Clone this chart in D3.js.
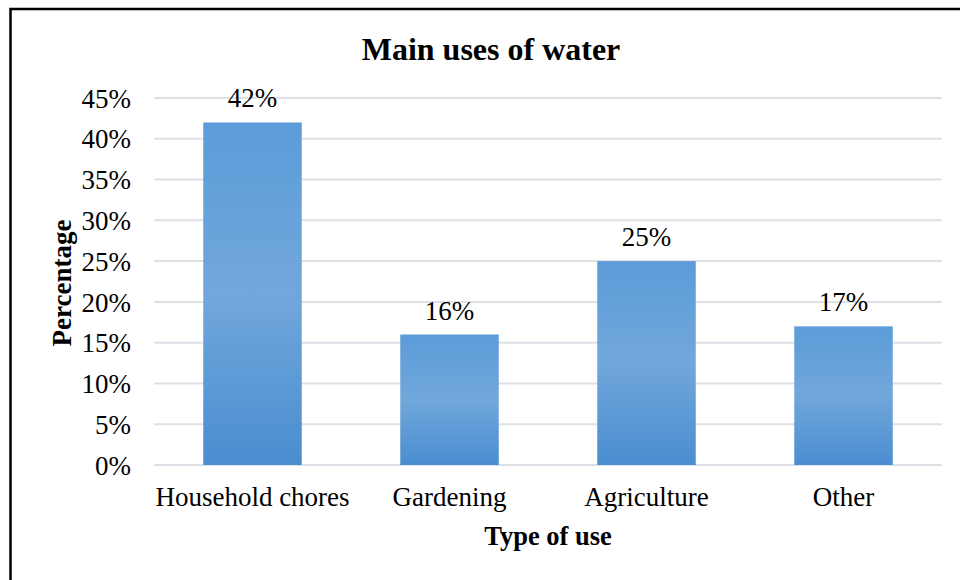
<!DOCTYPE html>
<html>
<head>
<meta charset="utf-8">
<script src="https://cdn.jsdelivr.net/npm/d3@7"></script>
<style>
  body { margin: 0; background: #fff; }
  text { font-family: "Liberation Serif", "Times New Roman", serif; fill: #000; }
</style>
</head>
<body>
<div id="chart-area"></div>
<script>
// data
var categories = ['Household chores', 'Gardening', 'Agriculture', 'Other'];
var values = [42, 16, 25, 17];
var yTicks = [0, 5, 10, 15, 20, 25, 30, 35, 40, 45];

var width = 960;
var height = 580;

var svg = d3.select('#chart-area')
	.append('svg')
	.attr('width', width)
	.attr('height', height);

// outer frame (only left + top edge fall inside the picture)
svg.append('rect')
	.attr('x', 10.5)
	.attr('y', 9)
	.attr('width', 960)
	.attr('height', 600)
	.attr('fill', 'none')
	.attr('stroke', '#000')
	.attr('stroke-width', 2.5);

var grad = svg.append('defs').append('linearGradient')
	.attr('id', 'barFill')
	.attr('x1', 0).attr('y1', 0).attr('x2', 0).attr('y2', 1);
grad.append('stop').attr('offset', '0%').attr('stop-color', '#5c9cd9');
grad.append('stop').attr('offset', '50%').attr('stop-color', '#71a7db');
grad.append('stop').attr('offset', '100%').attr('stop-color', '#4a8dd0');

var plot = { left: 154, right: 942, top: 98, bottom: 465 };

var x = d3.scaleBand()
	.domain(categories)
	.range([plot.left, plot.right])
	.paddingInner(0.5)
	.paddingOuter(0.25);

var y = d3.scaleLinear()
	.domain([0, 45])
	.range([plot.bottom, plot.top]);

// gridlines
svg.append('g')
	.selectAll('line')
	.data(yTicks)
	.enter()
		.append('line')
		.attr('x1', plot.left)
		.attr('x2', plot.right)
		.attr('y1', d => y(d))
		.attr('y2', d => y(d))
		.attr('stroke', '#dde1e7')
		.attr('stroke-width', 2);

// y axis labels
var yAxis = d3.axisLeft(y)
	.tickValues(yTicks)
	.tickSize(0)
	.tickPadding(23)
	.tickFormat(d => d + '%');
var yg = svg.append('g')
	.attr('transform', 'translate(' + plot.left + ',0)')
	.call(yAxis);
yg.select('.domain').remove();
yg.selectAll('text')
	.attr('font-size', 27)
	.attr('dy', '0.34em');

// bars
svg.append('g')
	.selectAll('rect')
	.data(values)
	.enter()
		.append('rect')
		.attr('x', (d, i) => x(categories[i]))
		.attr('y', d => y(d))
		.attr('width', x.bandwidth())
		.attr('height', d => y(0) - y(d))
		.attr('fill', 'url(#barFill)');

// value labels
svg.append('g')
	.selectAll('text')
	.data(values)
	.enter()
		.append('text')
		.attr('x', (d, i) => x(categories[i]) + x.bandwidth() / 2)
		.attr('y', d => y(d) - 15)
		.attr('text-anchor', 'middle')
		.attr('font-size', 27)
		.text(d => d + '%');

// x axis labels
var xAxis = d3.axisBottom(x).tickSize(0).tickPadding(22);
var xg = svg.append('g')
	.attr('transform', 'translate(0,' + plot.bottom + ')')
	.call(xAxis);
xg.select('.domain').remove();
xg.selectAll('text')
	.attr('font-size', 27);

// titles
svg.append('text')
	.attr('x', 491)
	.attr('y', 60)
	.attr('text-anchor', 'middle')
	.attr('font-size', 32)
	.attr('font-weight', 'bold')
	.text('Main uses of water');

svg.append('text')
	.attr('x', 548)
	.attr('y', 545)
	.attr('text-anchor', 'middle')
	.attr('font-size', 26.5)
	.attr('font-weight', 'bold')
	.text('Type of use');

svg.append('text')
	.attr('transform', 'translate(71,283) rotate(-90)')
	.attr('text-anchor', 'middle')
	.attr('font-size', 27)
	.attr('font-weight', 'bold')
	.text('Percentage');
</script>
</body>
</html>
